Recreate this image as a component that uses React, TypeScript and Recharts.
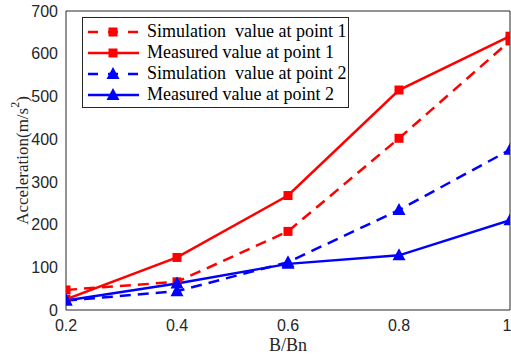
import { Legend, Line, LineChart, XAxis, YAxis } from "recharts";

// B/Bn positions and the four measured/simulated acceleration series
const bRatio = [0.2, 0.4, 0.6, 0.8, 1.0];
const simP1 = [47, 66, 184, 402, 630];
const measP1 = [25, 123, 268, 515, 641];
const simP2 = [22, 44, 112, 234, 375];
const measP2 = [22, 62, 108, 128, 210];

const xTicks = [0.2, 0.4, 0.6, 0.8, 1];
const yTicks = [0, 100, 200, 300, 400, 500, 600, 700];

const RED = "#ff0000";
const BLUE = "#0000ff";
const AXIS = "#262626";
const SANS = "'Liberation Sans', Arial, sans-serif";
const SERIF = "'Liberation Serif', 'Times New Roman', serif";

const TICK = { fontSize: 16, fill: AXIS, fontFamily: SANS } as const;

const rows = bRatio.map((b, i) => ({
  b,
  simP1: simP1[i],
  measP1: measP1[i],
  simP2: simP2[i],
  measP2: measP2[i],
}));

type Shape = "square" | "triangle";

const series: { key: string; name: string; color: string; dashed: boolean; shape: Shape }[] = [
  { key: "simP1", name: "Simulation  value at point 1", color: RED, dashed: true, shape: "square" },
  { key: "measP1", name: "Measured value at point 1", color: RED, dashed: false, shape: "square" },
  { key: "simP2", name: "Simulation  value at point 2", color: BLUE, dashed: true, shape: "triangle" },
  { key: "measP2", name: "Measured value at point 2", color: BLUE, dashed: false, shape: "triangle" },
];

function marker(shape: Shape, color: string, cx: number, cy: number, key?: any) {
  if (shape === "square") {
    return <rect key={key} x={cx - 4.5} y={cy - 4.5} width={9} height={9} fill={color} />;
  }
  return (
    <polygon
      key={key}
      points={`${cx},${cy - 7} ${cx - 6.5},${cy + 5} ${cx + 6.5},${cy + 5}`}
      fill={color}
    />
  );
}

const dotFor = (shape: Shape, color: string) => (p: any) =>
  marker(shape, color, p.cx, p.cy, `${p.dataKey}-${p.index}`);

function LegendBox() {
  return (
    <div
      style={{
        boxSizing: "border-box",
        width: 267,
        border: `1px solid ${AXIS}`,
        background: "#fff",
        padding: "3px 0 2px 4px",
        fontFamily: SERIF,
        fontSize: 18,
        color: "#000",
        lineHeight: "21px",
        whiteSpace: "pre",
      }}
    >
      {series.map((s) => (
        <div key={s.key} style={{ display: "flex", alignItems: "center", height: 21 }}>
          <svg width={60} height={16} style={{ flex: "none" }}>
            <line
              x1={1}
              x2={52}
              y1={8}
              y2={8}
              stroke={s.color}
              strokeWidth={2.5}
              strokeDasharray={s.dashed ? "10 10" : undefined}
            />
            {marker(s.shape, s.color, 26, 8)}
          </svg>
          <span>{s.name}</span>
        </div>
      ))}
    </div>
  );
}

function YLabel({ viewBox }: any) {
  const cx = viewBox.x + 22;
  const cy = viewBox.y + viewBox.height / 2;
  return (
    <text
      x={cx}
      y={cy}
      transform={`rotate(-90, ${cx}, ${cy})`}
      textAnchor="middle"
      dominantBaseline="central"
      fontFamily={SERIF}
      fontSize={17}
      fill={AXIS}
    >
      Acceleration(m/s
      <tspan dy={-7} fontSize={12}>
        2
      </tspan>
      <tspan dy={7}>)</tspan>
    </text>
  );
}

export default function App() {
  return (
    <div style={{ position: "absolute", left: 0, top: 0, background: "#fff" }}>
      <LineChart width={511} height={358} data={rows} margin={{ top: 11, right: 1, left: 0, bottom: 0 }}>
        <XAxis
          dataKey="b"
          type="number"
          domain={[0.2, 1]}
          ticks={xTicks}
          allowDataOverflow
          height={48}
          tick={TICK}
          tickLine={false}
          tickSize={6}
          tickMargin={4}
          axisLine={{ stroke: AXIS }}
          label={{
            value: "B/Bn",
            position: "insideBottom",
            offset: 7,
            style: { fontFamily: SERIF, fontSize: 18, fill: AXIS },
          }}
        />
        <XAxis
          xAxisId="bin"
          dataKey="b"
          type="number"
          domain={[0.2, 1]}
          ticks={xTicks}
          allowDataOverflow
          mirror
          tick={false}
          tickSize={4}
          tickLine={{ stroke: AXIS }}
          axisLine={false}
        />
        <XAxis
          xAxisId="top"
          orientation="top"
          dataKey="b"
          type="number"
          domain={[0.2, 1]}
          ticks={xTicks}
          allowDataOverflow
          mirror
          tick={false}
          tickSize={4}
          tickLine={{ stroke: AXIS }}
          axisLine={{ stroke: AXIS }}
        />
        <YAxis
          type="number"
          domain={[0, 700]}
          ticks={yTicks}
          width={66}
          tick={TICK}
          tickLine={false}
          tickSize={6}
          tickMargin={2}
          axisLine={{ stroke: AXIS }}
          label={<YLabel />}
        />
        <YAxis
          yAxisId="lin"
          type="number"
          domain={[0, 700]}
          ticks={yTicks}
          mirror
          tick={false}
          tickSize={4}
          tickLine={{ stroke: AXIS }}
          axisLine={false}
        />
        <YAxis
          yAxisId="right"
          orientation="right"
          type="number"
          domain={[0, 700]}
          ticks={yTicks}
          mirror
          tick={false}
          tickSize={4}
          tickLine={{ stroke: AXIS }}
          axisLine={{ stroke: AXIS }}
        />
        {series.map((s) => (
          <Line
            key={s.key}
            dataKey={s.key}
            name={s.name}
            type="linear"
            stroke={s.color}
            strokeWidth={2.5}
            strokeDasharray={s.dashed ? "11 7" : undefined}
            dot={dotFor(s.shape, s.color)}
            activeDot={false}
            isAnimationActive={false}
          />
        ))}
        <Legend
          layout="vertical"
          align="center"
          verticalAlign="middle"
          content={() => <LegendBox />}
          wrapperStyle={{ left: 82, top: 17, width: "auto", height: "auto" }}
        />
      </LineChart>
    </div>
  );
}
